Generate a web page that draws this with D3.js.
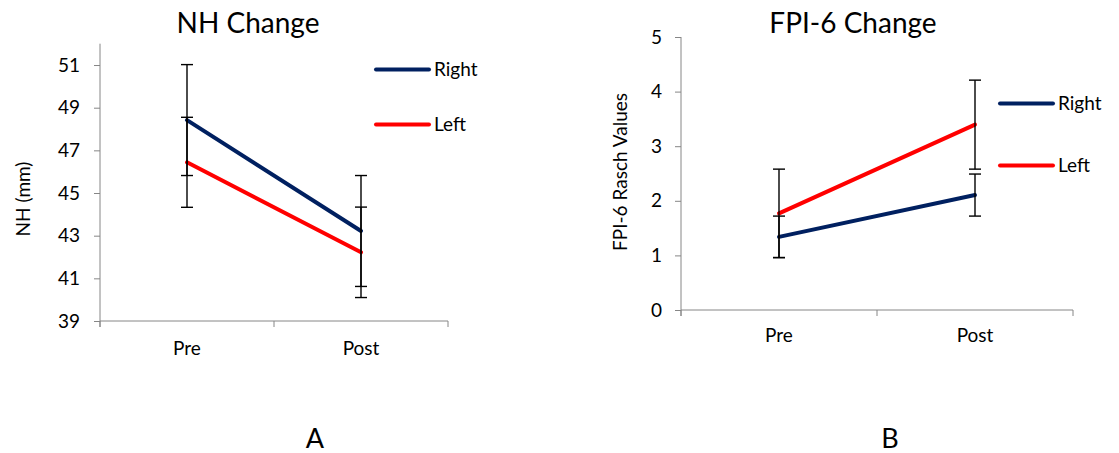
<!DOCTYPE html>
<html>
<head>
<meta charset="utf-8">
<script src="https://cdn.jsdelivr.net/npm/d3@7"></script>
<style>
  html, body { margin: 0; padding: 0; background: #fff; }
  svg { display: block; font-family: Lato, "Open Sans", sans-serif; }
</style>
</head>
<body>
<svg id="chart" width="1119" height="453"></svg>
<script>
// ---- Data ----
const categories = ["Pre", "Post"];
const seriesNames = ["Right", "Left"];

// Panel A: NH Change
const nhRight = [48.42, 43.22];
const nhLeft = [46.44, 42.22];
const nhRightErr = [2.6, 2.6];
const nhLeftErr = [2.11, 2.12];
const nhTicks = [39, 41, 43, 45, 47, 49, 51];

// Panel B: FPI-6 Change
const fpiRight = [1.34, 2.105];
const fpiLeft = [1.77, 3.395];
const fpiRightErr = [0.38, 0.385];
const fpiLeftErr = [0.81, 0.815];
const fpiTicks = [0, 1, 2, 3, 4, 5];

const colors = { Right: "#002060", Left: "#ff0000" };
const axisColor = "#868686";

const svg = d3.select("#chart");

function panel(cfg) {
  const g = svg.append("g");
  const x = d3.scaleBand().domain(categories).range([cfg.x0, cfg.x1]).padding(0);
  const y = d3.scaleLinear().domain(cfg.domain).range([cfg.yBottom, cfg.yTop]);

  // y axis
  const yAxis = d3.axisLeft(y).tickValues(cfg.ticks).tickFormat(d3.format("d"))
    .tickSize(6).tickPadding(cfg.tickPad).tickSizeOuter(0);
  const ya = g.append("g").attr("transform", `translate(${cfg.x0},0)`).call(yAxis);
  ya.select(".domain").attr("stroke", axisColor).attr("d", `M0,${y(cfg.domain[1])}V${cfg.yBottom + 6}`);
  ya.selectAll(".tick line").attr("stroke", axisColor);
  ya.selectAll(".tick text").attr("fill", "#000").style("font-size", "19px").style("font-family", "Lato");

  // x axis
  const xa = g.append("g").attr("transform", `translate(0,${cfg.yBottom})`);
  xa.append("line").attr("x1", cfg.x0).attr("x2", cfg.x1).attr("y1", 0).attr("y2", 0).attr("stroke", axisColor);
  const bounds = [cfg.x0, x(categories[1]), cfg.x1];
  xa.selectAll("line.tk").data(bounds).enter().append("line").attr("class", "tk")
    .attr("x1", d => d).attr("x2", d => d).attr("y1", 0).attr("y2", 6).attr("stroke", axisColor);
  xa.selectAll("text").data(categories).enter().append("text")
    .attr("x", d => x(d) + x.bandwidth() / 2).attr("y", cfg.catDy)
    .attr("text-anchor", "middle").style("font-size", "19px").text(d => d);

  // lines
  const line = d3.line().x((d, i) => x(categories[i]) + x.bandwidth() / 2).y(d => y(d));
  const series = [
    { name: "Right", values: cfg.right, err: cfg.rightErr },
    { name: "Left", values: cfg.left, err: cfg.leftErr }
  ];
  series.forEach(s => {
    g.append("path").datum(s.values).attr("d", line).attr("fill", "none")
      .attr("stroke", colors[s.name]).attr("stroke-width", 4).attr("stroke-linecap", "round");
  });
  // error bars
  series.forEach(s => {
    s.values.forEach((v, i) => {
      const cx = x(categories[i]) + x.bandwidth() / 2;
      const eg = g.append("g").attr("stroke", "#000").attr("stroke-width", 1.4);
      eg.append("line").attr("x1", cx).attr("x2", cx).attr("y1", y(v - s.err[i])).attr("y2", y(v + s.err[i]));
      [v - s.err[i], v + s.err[i]].forEach(e => {
        eg.append("line").attr("x1", cx - 6).attr("x2", cx + 6).attr("y1", y(e)).attr("y2", y(e));
      });
    });
  });

  // legend
  series.forEach((s, i) => {
    const ly = cfg.legendY[i];
    g.append("line").attr("x1", cfg.legendX).attr("x2", cfg.legendX + 53).attr("y1", ly).attr("y2", ly)
      .attr("stroke", colors[s.name]).attr("stroke-width", 4).attr("stroke-linecap", "round");
    g.append("text").attr("x", cfg.legendX + 58).attr("y", ly + 6.5).style("font-size", "19px").text(s.name);
  });

  // title
  g.append("text").attr("x", cfg.titleX).attr("y", 33).attr("text-anchor", "middle")
    .style("font-size", "28px").text(cfg.title);
  // y axis title
  g.append("text").attr("transform", `translate(${cfg.yTitleX},${cfg.yTitleY}) rotate(-90)`)
    .attr("text-anchor", "middle").style("font-size", "19px").text(cfg.yTitle);
  // panel letter
  g.append("text").attr("x", cfg.letterX).attr("y", 448).attr("text-anchor", "middle")
    .style("font-size", "27px").text(cfg.letter);
}

panel({
  x0: 100, x1: 448, yBottom: 321, yTop: 43.7, domain: [39, 52], ticks: nhTicks, tickPad: 14,
  right: nhRight, left: nhLeft, rightErr: nhRightErr, leftErr: nhLeftErr,
  legendX: 376, legendY: [69.5, 124.5], catDy: 34,
  title: "NH Change", titleX: 248, yTitle: "NH (mm)", yTitleX: 30, yTitleY: 199,
  letter: "A", letterX: 315
});

panel({
  x0: 681, x1: 1073, yBottom: 310, yTop: 37, domain: [0, 5], ticks: fpiTicks, tickPad: 13,
  right: fpiRight, left: fpiLeft, rightErr: fpiRightErr, leftErr: fpiLeftErr,
  legendX: 1000, legendY: [103.5, 165.5], catDy: 32,
  title: "FPI-6 Change", titleX: 853, yTitle: "FPI-6 Rasch Values", yTitleX: 627, yTitleY: 172,
  letter: "B", letterX: 890
});
</script>
</body>
</html>
